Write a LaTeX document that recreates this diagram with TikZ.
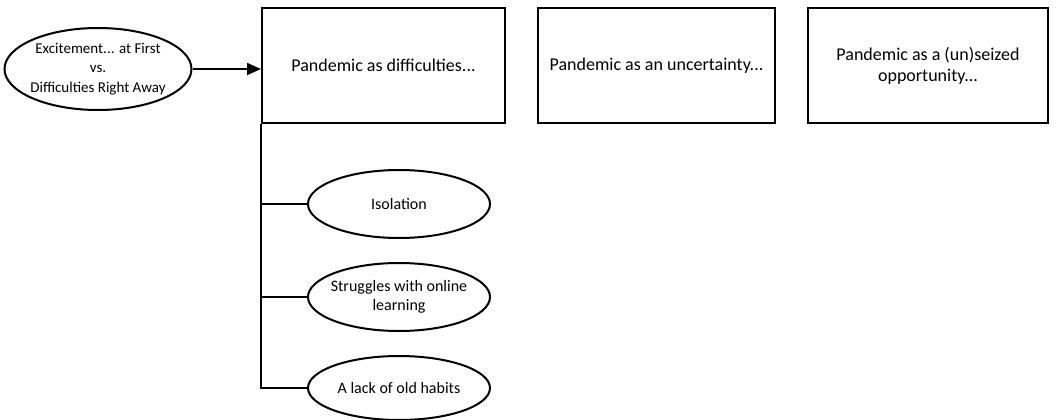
\documentclass[tikz,border=0pt]{standalone}
\usepackage{fontspec}
\setmainfont{Carlito}
\usetikzlibrary{shapes.geometric,arrows.meta}
\begin{document}
\begin{tikzpicture}[x=1pt,y=-1pt,
  box/.style={draw,line width=2pt,minimum width=243pt,minimum height=115pt,align=center,font=\fontsize{18}{21}\selectfont,inner sep=0pt},
  oval/.style={draw,ellipse,line width=2pt,inner xsep=-30pt,inner ysep=-20pt,align=center,font=\fontsize{16}{19.5}\selectfont},
  conn/.style={line width=2pt}]
\useasboundingbox (0,0) rectangle (1060,420);
\node[oval,minimum width=187pt,minimum height=82pt,font=\fontsize{15}{19.5}\selectfont] (ex) at (98,69) {Excitement... at First\\vs.\\Difficulties Right Away};
\node[box] (b1) at (383.5,65.5) {Pandemic as difficulties...};
\node[box,minimum width=237pt] (b2) at (656.5,65.5) {Pandemic as an uncertainty...};
\node[box,minimum width=240pt] (b3) at (928,65.5) {Pandemic as a (un)seized\\opportunity...};
\node[oval,minimum width=182pt,minimum height=68pt] (e1) at (399,204) {Isolation};
\node[oval,minimum width=182pt,minimum height=68pt] (e2) at (399,297) {Struggles with online\\learning};
\node[oval,minimum width=182pt,minimum height=64pt] (e3) at (399,388) {A lack of old habits};
\draw[conn,-{Triangle[length=14pt,width=12pt]}] (ex.east) -- (ex.east -| b1.west);
\coordinate (top) at (b1.south west);
\draw[conn] (top) |- (e3.west);
\draw[conn] (top) |- (e1.west);
\draw[conn] (top) |- (e2.west);
\end{tikzpicture}
\end{document}
